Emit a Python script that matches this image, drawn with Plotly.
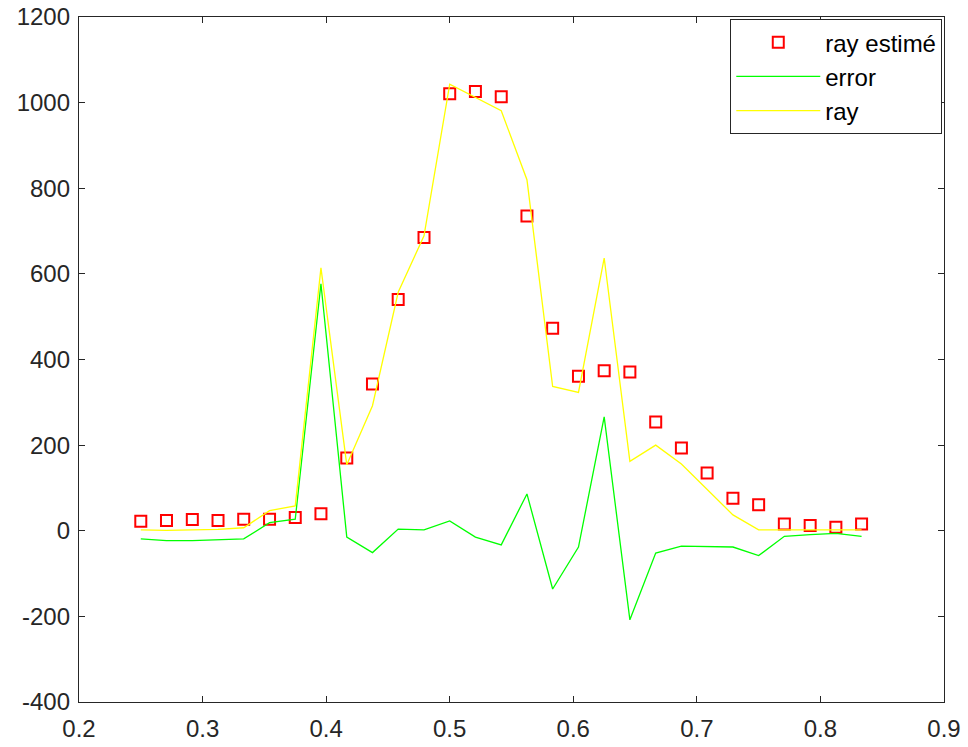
import plotly.graph_objects as go

x_vals = [0.2500, 0.2708, 0.2917, 0.3125, 0.3333, 0.3542, 0.3750, 0.3958, 0.4167,
          0.4375, 0.4583, 0.4792, 0.5000, 0.5208, 0.5417, 0.5625, 0.5833, 0.6042,
          0.6250, 0.6458, 0.6667, 0.6875, 0.7083, 0.7292, 0.7500, 0.7708, 0.7917,
          0.8125, 0.8333]

ray_estime = [22, 24, 26, 24, 27, 27, 31, 40, 170, 343, 540, 685, 1021, 1026, 1014,
              735, 473, 361, 374, 371, 254, 193, 135, 76, 61, 16, 12, 8, 16]

error = [-19, -23, -23, -21, -19, 19, 27, 577, -15, -51, 4, 2, 23, -15, -33,
         86, -136, -38, 266, -208, -52, -36, -37, -38, -58, -13, -9, -6, -13]

ray = [2, 1, 2, 3, 7, 47, 58, 614, 154, 292, 557, 689, 1043, 1012, 981,
       820, 337, 323, 637, 162, 200, 156, 97, 37, 2, 2, 2, 2, 2]

x_ticks = [0.2, 0.3, 0.4, 0.5, 0.6, 0.7, 0.8, 0.9]
y_ticks = [-400, -200, 0, 200, 400, 600, 800, 1000, 1200]

fig = go.Figure()
fig.add_trace(go.Scatter(x=x_vals, y=ray_estime, mode="markers", name="ray estimé",
                         marker=dict(symbol="square-open", size=11, color="#ff0000",
                                     line=dict(width=2, color="#ff0000"))))
fig.add_trace(go.Scatter(x=x_vals, y=error, mode="lines", name="error",
                         line=dict(color="#00ff00", width=1.3)))
fig.add_trace(go.Scatter(x=x_vals, y=ray, mode="lines", name="ray",
                         line=dict(color="#ffff00", width=1.3)))

axis_common = dict(showgrid=False, zeroline=False, showline=True, linecolor="#262626",
                   linewidth=1.3, mirror="ticks", ticks="inside", ticklen=6,
                   tickcolor="#262626", tickwidth=1, automargin=False,
                   ticklabeloverflow="allow",
                   tickfont=dict(family="Liberation Sans, Arial", size=24, color="#262626"))

fig.update_layout(
    width=968, height=747,
    margin=dict(l=79, r=24, t=17, b=45),
    paper_bgcolor="white", plot_bgcolor="white",
    xaxis=dict(range=[0.2, 0.9], tickvals=x_ticks, ticklabelstandoff=5,
               ticktext=[f"{v:g}" for v in x_ticks], **axis_common),
    yaxis=dict(range=[-400, 1200], tickvals=y_ticks, ticklabelstandoff=3,
               ticktext=[str(v) for v in y_ticks], **axis_common),
    legend=dict(x=0.998, y=0.997, xanchor="right", yanchor="top",
                bgcolor="white", bordercolor="#262626", borderwidth=1,
                font=dict(family="Liberation Sans, Arial", size=24, color="#000000"),
                itemwidth=84, tracegroupgap=0),
    showlegend=True,
)

# remove the default 8px page margin so the 968x747 figure fills the window exactly
fig.write_html("out.html", config={"displayModeBar": False},
               post_script="document.body.style.margin='0';")
